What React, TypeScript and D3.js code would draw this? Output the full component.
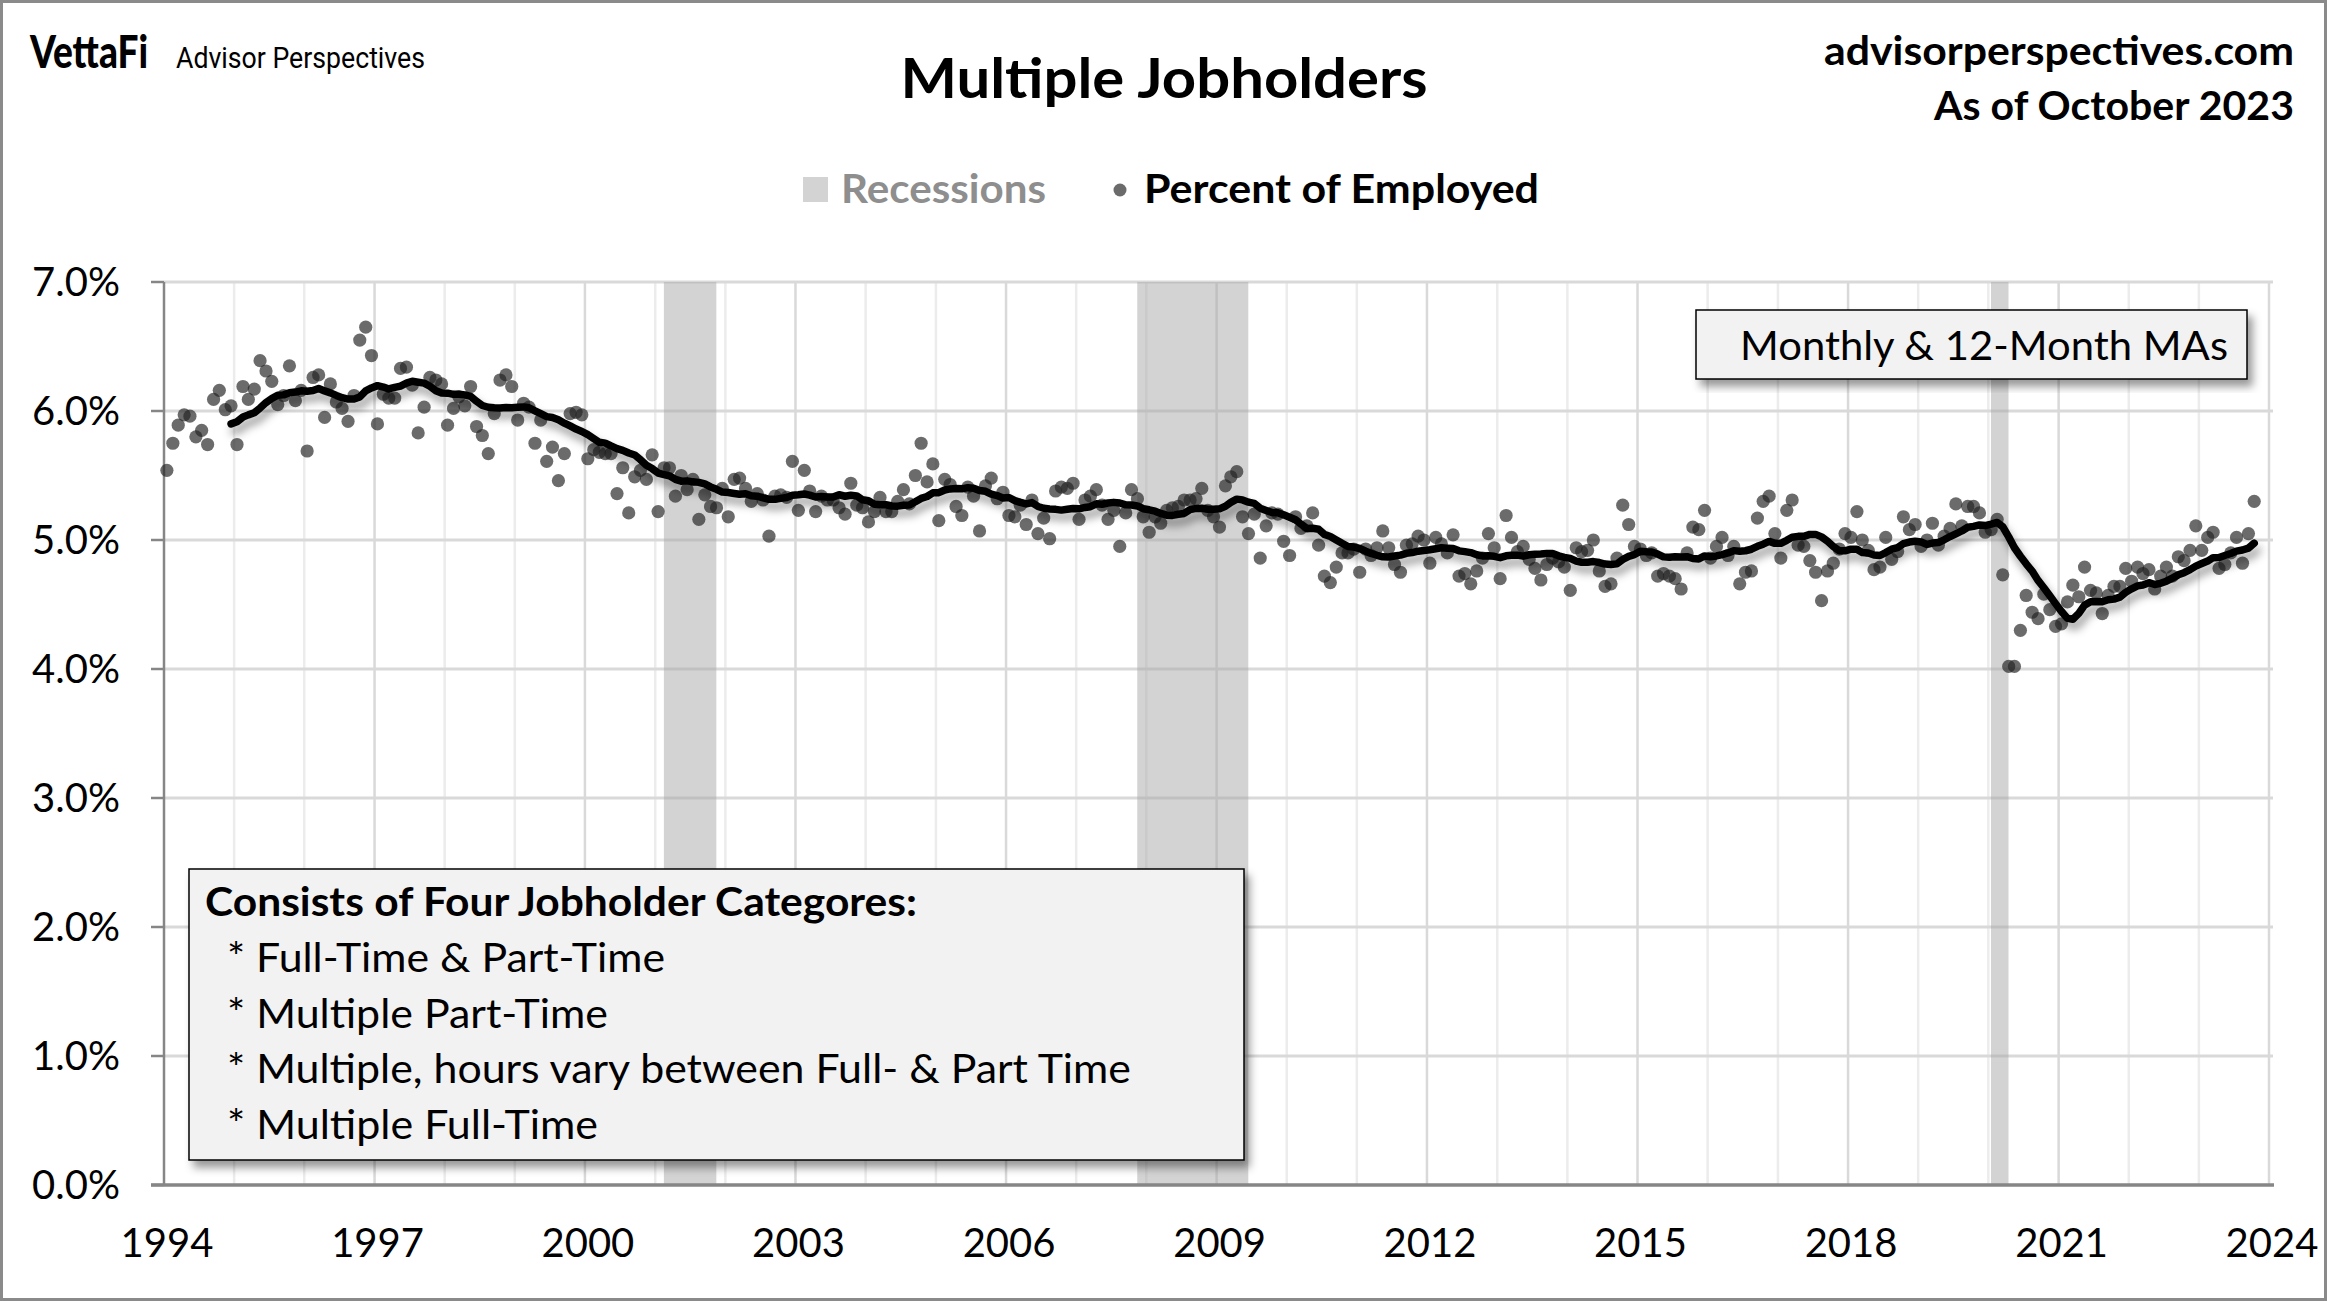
import React from "react";
import * as d3 from "d3";

// Multiple jobholders as percent of employed, monthly from Jan 1994
const pct1994to1999 = [
  5.54, 5.75, 5.89, 5.97, 5.96, 5.8, 5.85, 5.74, 6.09, 6.16, 6.01, 6.04,
  5.74, 6.19, 6.09, 6.17, 6.39, 6.31, 6.23, 6.05, 6.12, 6.35, 6.08, 6.16,
  5.69, 6.26, 6.28, 5.95, 6.21, 6.07, 6.02, 5.92, 6.12, 6.55, 6.65, 6.43,
  5.9, 6.13, 6.1, 6.1, 6.33, 6.34, 6.2, 5.83, 6.03, 6.26, 6.24, 6.21,
  5.89, 6.02, 6.11, 6.04, 6.19, 5.88, 5.81, 5.67, 5.98, 6.24, 6.28, 6.19,
  5.93, 6.06, 6.03, 5.75, 5.93, 5.61, 5.72, 5.46, 5.67, 5.98, 5.99, 5.97,
];
const pct2000to2005 = [
  5.63, 5.7, 5.68, 5.67, 5.67, 5.36, 5.56, 5.21, 5.49, 5.54, 5.47, 5.66,
  5.22, 5.56, 5.56, 5.34, 5.5, 5.39, 5.47, 5.16, 5.35, 5.26, 5.25, 5.4,
  5.18, 5.47, 5.48, 5.4, 5.3, 5.36, 5.31, 5.03, 5.34, 5.35, 5.33, 5.61,
  5.23, 5.54, 5.38, 5.22, 5.34, 5.31, 5.31, 5.25, 5.2, 5.44, 5.27, 5.25,
  5.14, 5.22, 5.33, 5.22, 5.22, 5.3, 5.39, 5.28, 5.5, 5.75, 5.45, 5.59,
  5.15, 5.47, 5.43, 5.26, 5.19, 5.41, 5.34, 5.07, 5.42, 5.48, 5.32, 5.37,
];
const pct2006to2011 = [
  5.19, 5.18, 5.27, 5.12, 5.31, 5.05, 5.17, 5.01, 5.38, 5.41, 5.4, 5.44,
  5.16, 5.31, 5.34, 5.39, 5.27, 5.16, 5.23, 4.95, 5.21, 5.39, 5.32, 5.18,
  5.06, 5.18, 5.13, 5.23, 5.25, 5.26, 5.31, 5.31, 5.32, 5.4, 5.23, 5.18,
  5.1, 5.42, 5.49, 5.53, 5.18, 5.05, 5.2, 4.86, 5.11, 5.21, 5.2, 4.99,
  4.88, 5.18, 5.09, 5.11, 5.21, 4.96, 4.72, 4.67, 4.79, 4.9, 4.9, 4.93,
  4.75, 4.93, 4.88, 4.94, 5.07, 4.94, 4.81, 4.75, 4.96, 4.97, 5.03, 5.0,
];
const pct2012to2017 = [
  4.82, 5.02, 4.97, 4.9, 5.04, 4.72, 4.74, 4.66, 4.76, 4.86, 5.05, 4.94,
  4.7, 5.19, 5.02, 4.91, 4.95, 4.85, 4.78, 4.69, 4.81, 4.86, 4.83, 4.79,
  4.61, 4.94, 4.91, 4.92, 5.0, 4.76, 4.64, 4.66, 4.86, 5.27, 5.12, 4.95,
  4.93, 4.88, 4.9, 4.72, 4.74, 4.72, 4.7, 4.62, 4.9, 5.1, 5.08, 5.23,
  4.86, 4.95, 5.02, 4.88, 4.95, 4.66, 4.75, 4.76, 5.17, 5.3, 5.34, 5.05,
  4.86, 5.23, 5.31, 4.96, 4.95, 4.84, 4.75, 4.53, 4.76, 4.82, 4.93, 5.05,
];
const pct2018to2023 = [
  5.02, 5.22, 5.0, 4.92, 4.77, 4.79, 5.02, 4.85, 4.91, 5.18, 5.08, 5.12,
  4.95, 5.0, 5.13, 4.96, 5.03, 5.09, 5.28, 5.11, 5.26, 5.26, 5.21, 5.06,
  5.08, 5.16, 4.73, 4.02, 4.02, 4.3, 4.57, 4.44, 4.39, 4.58, 4.46, 4.33,
  4.35, 4.52, 4.65, 4.56, 4.79, 4.61, 4.59, 4.43, 4.57, 4.64, 4.64, 4.78,
  4.68, 4.79, 4.74, 4.77, 4.62, 4.72, 4.79, 4.72, 4.87, 4.84, 4.92, 5.11,
  4.92, 5.02, 5.06, 4.78, 4.81, 4.9, 5.02, 4.82, 5.05, 5.3,
];

// Recessions: [start year, start month (1-12), end year, end month]
const recessions = [
  [2001, 3, 2001, 11],
  [2007, 12, 2009, 6],
  [2020, 2, 2020, 4],
];
const yTickValues = [0, 1, 2, 3, 4, 5, 6, 7];
const xLabelYears = [1994, 1997, 2000, 2003, 2006, 2009, 2012, 2015, 2018, 2021, 2024];
const categoryLines = [
  "* Full-Time & Part-Time",
  "* Multiple Part-Time",
  "* Multiple, hours vary between Full- & Part Time",
  "* Multiple Full-Time",
];
const categoryWidths = [438, 381, 904, 371];

const FONT = "Lato, 'Open Sans', sans-serif";

export default function App() {
  const W = 2327;
  const H = 1301;
  const left = 164;
  const right = 2269;
  const top = 282;
  const bottom = 1185;

  const x = d3
    .scaleTime()
    .domain([new Date(1994, 0, 1), new Date(2024, 0, 1)])
    .range([left, right]);
  const y = d3.scaleLinear().domain([0, 7]).range([bottom, top]);

  const values = [
    ...pct1994to1999,
    ...pct2000to2005,
    ...pct2006to2011,
    ...pct2012to2017,
    ...pct2018to2023,
  ];
  const data = values.map((v, i) => ({ date: new Date(1994, i, 16), v }));
  const ma = data
    .map((d, i) =>
      i < 11 ? null : { date: d.date, v: d3.mean(values.slice(i - 11, i + 1)) as number }
    )
    .filter(Boolean) as { date: Date; v: number }[];

  const line = d3
    .line<{ date: Date; v: number }>()
    .x((d) => x(d.date))
    .y((d) => y(d.v));

  const years = d3.range(1995, 2025);

  const dotFill = "#222";
  const dotOpacity = 0.67;

  return (
    <svg
      width={W}
      height={H}
      style={{ position: "absolute", left: 0, top: 0, background: "#fff" }}
      fontFamily={FONT}
    >
      <defs>
        <filter id="lineShadow" x="-5%" y="-20%" width="110%" height="150%">
          <feDropShadow dx="3" dy="7" stdDeviation="4" floodColor="#000" floodOpacity="0.38" />
        </filter>
        <filter id="boxShadow" x="-5%" y="-10%" width="115%" height="130%">
          <feDropShadow dx="5" dy="7" stdDeviation="4" floodColor="#000" floodOpacity="0.4" />
        </filter>
      </defs>
      <rect x={0} y={0} width={W} height={H} fill="#fff" />
      <rect x={1.5} y={1.5} width={W - 3} height={H - 3} fill="none" stroke="#8a8a8a" strokeWidth={3} />

      {/* Header */}
      <text x={30} y={68} fontFamily="Lato, sans-serif" fontWeight={900} fontSize={46} textLength={118} lengthAdjust="spacingAndGlyphs">
        VettaFi
      </text>
      <text x={176} y={68} fontFamily="Roboto, sans-serif" fontSize={29.5} textLength={249} lengthAdjust="spacingAndGlyphs">
        Advisor Perspectives
      </text>
      <text x={1164} y={98} textAnchor="middle" fontWeight={700} fontSize={56} textLength={527} lengthAdjust="spacingAndGlyphs">
        Multiple Jobholders
      </text>
      <text x={2294} y={65} textAnchor="end" fontWeight={700} fontSize={40} textLength={470} lengthAdjust="spacingAndGlyphs">
        advisorperspectives.com
      </text>
      <text x={2294} y={120} textAnchor="end" fontWeight={700} fontSize={40} textLength={360} lengthAdjust="spacingAndGlyphs">
        As of October 2023
      </text>

      {/* Legend */}
      <rect x={803} y={177} width={25} height={25} fill="#d3d3d3" />
      <text x={841} y={203} fontWeight={700} fontSize={40} fill="#8e8e8e" textLength={205} lengthAdjust="spacingAndGlyphs">
        Recessions
      </text>
      <circle cx={1120} cy={190} r={6.5} fill={dotFill} fillOpacity={dotOpacity} />
      <text x={1144} y={203} fontWeight={700} fontSize={40} fill="#000" textLength={395} lengthAdjust="spacingAndGlyphs">
        Percent of Employed
      </text>

      {/* Vertical gridlines */}
      {years.map((yr) => (
        <line
          key={"vg" + yr}
          x1={x(new Date(yr, 0, 1))}
          x2={x(new Date(yr, 0, 1))}
          y1={top}
          y2={bottom}
          stroke={(yr - 1994) % 3 === 0 ? "#d9d9d9" : "#ececec"}
          strokeWidth={2.5}
        />
      ))}
      {/* Horizontal gridlines */}
      {yTickValues
        .filter((t) => t > 0)
        .map((t) => (
          <line key={"hg" + t} x1={left} x2={right + 4} y1={y(t)} y2={y(t)} stroke="#d9d9d9" strokeWidth={3} />
        ))}

      {/* Recession bands */}
      {recessions.map(([sy, sm, ey, em], i) => {
        const x0 = x(new Date(sy, sm - 2, 15));
        const x1 = x(new Date(ey, em - 1, 15));
        return <rect key={"rec" + i} x={x0} y={top} width={x1 - x0} height={bottom - top} fill="#a8a8a8" fillOpacity={0.5} />;
      })}

      {/* Axes */}
      <line x1={left} x2={left} y1={top} y2={bottom} stroke="#868686" strokeWidth={2.5} />
      {yTickValues.map((t) => (
        <line key={"yt" + t} x1={151} x2={left} y1={y(t)} y2={y(t)} stroke="#868686" strokeWidth={2.5} />
      ))}
      <line x1={151} x2={right + 5} y1={bottom} y2={bottom} stroke="#868686" strokeWidth={3.5} />
      {yTickValues.map((t) => (
        <text key={"yl" + t} x={120} y={y(t) + 14} textAnchor="end" fontSize={40} fill="#000">
          {d3.format(".1f")(t) + "%"}
        </text>
      ))}
      {xLabelYears.map((yr) => (
        <text key={"xl" + yr} x={x(new Date(yr, 0, 1)) + 3} y={1257} textAnchor="middle" fontSize={40} fill="#000">
          {yr}
        </text>
      ))}

      {/* Monthly dots */}
      {data.map((d, i) => (
        <circle key={"pt" + i} cx={x(d.date)} cy={y(d.v)} r={6.6} fill={dotFill} fillOpacity={dotOpacity} />
      ))}

      {/* 12-month moving average */}
      <path
        d={line(ma) || ""}
        fill="none"
        stroke="#000"
        strokeWidth={7.5}
        strokeLinejoin="round"
        strokeLinecap="round"
        filter="url(#lineShadow)"
      />

      {/* Annotation box: Monthly & 12-Month MAs */}
      <rect x={1696} y={310} width={551} height={69} fill="#f2f2f2" stroke="#000" strokeWidth={1.5} filter="url(#boxShadow)" />
      <text x={2228} y={360} textAnchor="end" fontSize={40} textLength={488} lengthAdjust="spacingAndGlyphs">
        Monthly &amp; 12-Month MAs
      </text>

      {/* Category box */}
      <rect x={189} y={869} width={1055} height={291} fill="#f2f2f2" stroke="#000" strokeWidth={1.5} filter="url(#boxShadow)" />
      <text x={205} y={916} fontWeight={700} fontSize={40} textLength={712} lengthAdjust="spacingAndGlyphs">
        Consists of Four Jobholder Categores:
      </text>
      {categoryLines.map((s, i) => (
        <text key={"cl" + i} x={227} y={972 + i * 55.6} fontSize={40} textLength={categoryWidths[i]} lengthAdjust="spacingAndGlyphs">
          {s}
        </text>
      ))}
    </svg>
  );
}
